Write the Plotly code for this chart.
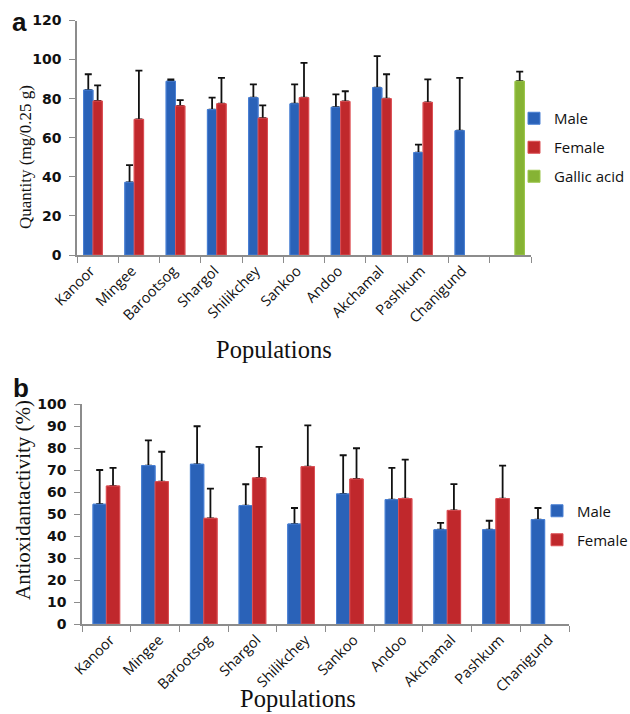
import plotly.graph_objects as go

# ---------------- data ----------------
populations = ["Kanoor", "Mingee", "Barootsog", "Shargol", "Shilikchey",
               "Sankoo", "Andoo", "Akchamal", "Pashkum", "Chanigund"]
cats_a = populations + [" "]

male_a = [84.4, 37.2, 88.9, 74.4, 80.5, 77.4, 75.6, 85.6, 52.4, 63.6, None]
male_a_err = [8.1, 8.8, 1.0, 6.1, 6.8, 9.9, 6.6, 16.2, 4.1, 27.0, None]
female_a = [78.8, 69.4, 76.3, 77.4, 70.0, 80.5, 78.6, 80.0, 78.1, None, None]
female_a_err = [8.0, 24.9, 3.0, 13.2, 6.6, 17.8, 5.2, 12.5, 11.8, None, None]
gallic_a = [None] * 10 + [88.9]
gallic_a_err = [None] * 10 + [4.9]

male_b = [54.5, 72.1, 72.7, 53.9, 45.5, 59.2, 56.6, 42.9, 42.9, 47.5]
male_b_err = [15.6, 11.5, 17.3, 9.7, 7.3, 17.6, 14.5, 3.1, 4.1, 5.3]
female_b = [62.8, 64.8, 48.1, 66.5, 71.6, 66.0, 57.1, 51.7, 57.1, None]
female_b_err = [8.3, 13.6, 13.5, 14.1, 18.8, 14.0, 17.7, 12.0, 15.0, None]

y_ticks_a = [0, 20, 40, 60, 80, 100, 120]
y_ticks_b = [0, 10, 20, 30, 40, 50, 60, 70, 80, 90, 100]

# ---------------- styles ----------------
W, H = 630, 714
BLUE, BLUE_L = "#2A62B8", "#4A80D4"
RED, RED_L = "#C0282C", "#DC5055"
GREEN, GREEN_L = "#86B334", "#9CC64C"
AXIS = "#8C8C8C"
ERR = dict(type="data", symmetric=False, color="#111111", thickness=1.8, width=3.5)
BW_B = 0.274  # bar width (category units) in panel b


def px(x):
    return x / W


def py(y):
    return 1 - y / H


fig = go.Figure()


def add_series(x, y, err, name, color, line, xa, ya, og, legend, cover=False,
               width=None, offset=None):
    e = None
    if not cover:
        e = dict(ERR, array=err, arrayminus=[0 if v is not None else None for v in err])
    fig.add_trace(go.Bar(
        x=x, y=y, name=name, xaxis=xa, yaxis=ya, offsetgroup=og,
        marker=dict(color=color, line=dict(color=line, width=1)),
        error_y=e, legend=legend, legendgroup=legend + name,
        showlegend=not cover, hoverinfo="skip" if cover else None,
        width=width, offset=offset,
    ))


# panel a
add_series(cats_a, male_a, male_a_err, "Male", BLUE, BLUE_L, "x", "y", "1", "legend")
add_series(cats_a, female_a, female_a_err, "Female", RED, RED_L, "x", "y", "2", "legend")
add_series(cats_a, gallic_a, gallic_a_err, "Gallic acid", GREEN, GREEN_L, "x", "y", "3", "legend")
add_series(cats_a, male_a, male_a_err, "Male", BLUE, BLUE_L, "x", "y", "1", "legend", cover=True)
add_series(cats_a, female_a, female_a_err, "Female", RED, RED_L, "x", "y", "2", "legend", cover=True)
add_series(cats_a, gallic_a, gallic_a_err, "Gallic acid", GREEN, GREEN_L, "x", "y", "3", "legend", cover=True)

# panel b
add_series(populations, male_b, male_b_err, "Male", BLUE, BLUE_L, "x2", "y2", "1", "legend2",
           width=BW_B, offset=-BW_B)
add_series(populations, female_b, female_b_err, "Female", RED, RED_L, "x2", "y2", "2", "legend2",
           width=BW_B, offset=0)
add_series(populations, male_b, male_b_err, "Male", BLUE, BLUE_L, "x2", "y2", "1", "legend2",
           cover=True, width=BW_B, offset=-BW_B)
add_series(populations, female_b, female_b_err, "Female", RED, RED_L, "x2", "y2", "2", "legend2",
           cover=True, width=BW_B, offset=0)

cat_font = dict(family="Open Sans", size=14.5, color="#111111")
num_font = dict(family="DejaVu Sans", size=14, color="#111111", weight="bold")

xcommon = dict(type="category", showline=True, linecolor=AXIS, linewidth=1.5,
               ticks="outside", tickson="boundaries", ticklen=6, tickcolor=AXIS,
               tickwidth=1.2, tickangle=-45, tickfont=cat_font, showgrid=False,
               zeroline=False, fixedrange=True, automargin=False)
ycommon = dict(showline=True, linecolor=AXIS, linewidth=1.5, ticks="outside",
               ticklen=6, tickcolor=AXIS, tickwidth=1.2, tickfont=num_font,
               showgrid=False, zeroline=False, ticklabelstandoff=5, fixedrange=True,
               automargin=False)

serif = "Liberation Serif"
annotations = [
    dict(text="<b>a</b>", x=px(19), y=py(22), font=dict(family="Liberation Sans", size=26, color="#111111")),
    dict(text="<b>b</b>", x=px(21), y=py(388), font=dict(family="Liberation Sans", size=26, color="#111111")),
    dict(text="Quantity (mg/0.25 g)", x=px(25), y=py(157), textangle=-90,
         font=dict(family=serif, size=17, color="#111111")),
    dict(text="Antioxidantactivity (%)", x=px(23), y=py(500), textangle=-90,
         font=dict(family=serif, size=21, color="#111111")),
    dict(text="Populations", x=px(274), y=py(349), font=dict(family=serif, size=24.5, color="#111111")),
    dict(text="Populations", x=px(298), y=py(698), font=dict(family=serif, size=24.5, color="#111111")),
]
for a in annotations:
    a.update(xref="paper", yref="paper", showarrow=False, xanchor="center", yanchor="middle")

fig.update_layout(
    width=W, height=H,
    margin=dict(l=0, r=0, t=0, b=0, autoexpand=False),
    paper_bgcolor="white", plot_bgcolor="white",
    barmode="group", bargap=0.32, bargroupgap=0,
    xaxis=dict(xcommon, domain=[px(77), px(531)], anchor="y", ticklabelshift=-7,
               categoryorder="array", categoryarray=cats_a),
    yaxis=dict(ycommon, domain=[py(255), py(20.5)], range=[0, 120],
               tickvals=y_ticks_a, anchor="x"),
    xaxis2=dict(xcommon, domain=[px(82), px(569)], anchor="y2", ticklabelshift=4,
                categoryorder="array", categoryarray=populations),
    yaxis2=dict(ycommon, domain=[py(624), py(404.3)], range=[0, 100],
                tickvals=y_ticks_b, anchor="x2"),
    legend=dict(x=px(514), xanchor="left", y=py(147.5), yanchor="middle",
                bgcolor="rgba(0,0,0,0)", font=dict(family="Open Sans", size=15, color="#111111"),
                tracegroupgap=6.5, itemclick=False),
    legend2=dict(x=px(537), xanchor="left", y=py(525.5), yanchor="middle",
                 bgcolor="rgba(0,0,0,0)", font=dict(family="Open Sans", size=15, color="#111111"),
                 tracegroupgap=6.5, itemclick=False),
    showlegend=True,
    annotations=annotations,
)

fig.write_html("out.html",
               config={"displayModeBar": False},
               post_script="document.body.style.margin='0';document.body.style.overflow='hidden';")
